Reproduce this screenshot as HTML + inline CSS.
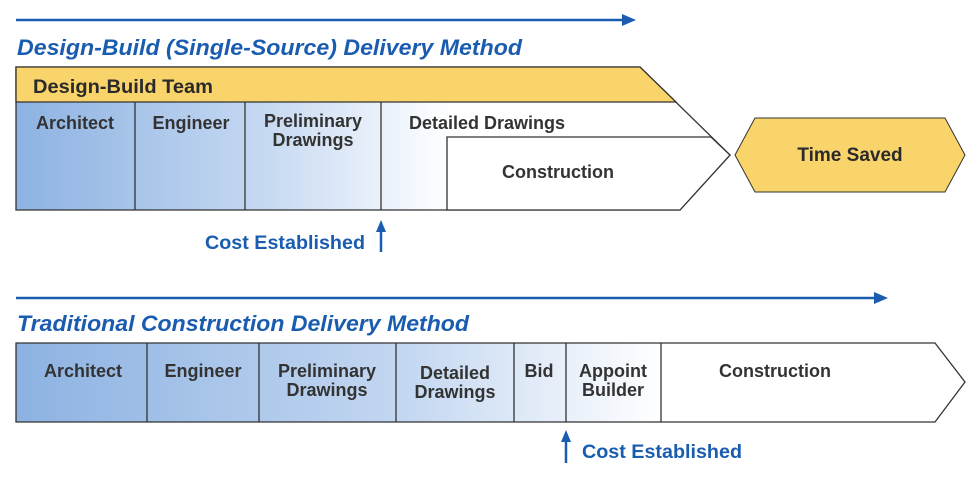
<!DOCTYPE html>
<html><head><style>
body{margin:0;background:#fff;}
svg text{font-family:"Liberation Sans",sans-serif;}
</style></head><body>
<svg width="980" height="478" viewBox="0 0 980 478" xmlns="http://www.w3.org/2000/svg">
<defs>
<linearGradient id="g1" x1="16" x2="450" y1="0" y2="0" gradientUnits="userSpaceOnUse">
<stop offset="0" stop-color="#8db2e2"/><stop offset="0.55" stop-color="#c3d7f1"/><stop offset="1" stop-color="#ffffff"/></linearGradient>
<linearGradient id="g2" x1="16" x2="720" y1="0" y2="0" gradientUnits="userSpaceOnUse">
<stop offset="0" stop-color="#8db2e2"/><stop offset="0.55" stop-color="#c3d7f1"/><stop offset="0.92" stop-color="#ffffff"/></linearGradient>
</defs>
<!-- top -->
<line x1="16" y1="20" x2="624" y2="20" stroke="#1a5cb0" stroke-width="2.5"/>
<polygon points="622,14 636,20 622,26" fill="#1a5cb0"/>
<text x="17" y="55" font-size="22" font-weight="bold" font-style="italic" fill="#1a5cb0" textLength="505" lengthAdjust="spacingAndGlyphs">Design-Build (Single-Source) Delivery Method</text>
<polygon points="16,67 640,67 730,155 680,210 16,210" fill="url(#g1)" stroke="#333" stroke-width="1.3"/>
<polygon points="16,67 640,67 676,102 16,102" fill="#f9d46a" stroke="#333" stroke-width="1.3"/>
<line x1="135" y1="102" x2="135" y2="210" stroke="#333" stroke-width="1.3"/>
<line x1="245" y1="102" x2="245" y2="210" stroke="#333" stroke-width="1.3"/>
<line x1="381" y1="102" x2="381" y2="210" stroke="#333" stroke-width="1.3"/>
<polygon points="447,137 711,137 730,155 680,210 447,210" fill="#fff" stroke="#333" stroke-width="1.3"/>
<text x="33" y="93" font-size="19" font-weight="bold" fill="#2a2a2a" textLength="180" lengthAdjust="spacingAndGlyphs">Design-Build Team</text>
<g font-size="18" font-weight="bold" fill="#333" text-anchor="middle">
<text x="75" y="129">Architect</text>
<text x="191" y="129">Engineer</text>
<text x="313" y="127">Preliminary</text>
<text x="313" y="146">Drawings</text>
<text x="487" y="129">Detailed Drawings</text>
<text x="558" y="178">Construction</text>
</g>
<polygon points="735,155 755,118 945,118 965,155 945,192 755,192" fill="#f9d46a" stroke="#333" stroke-width="1"/>
<text x="850" y="161" font-size="19" font-weight="bold" fill="#2a2a2a" text-anchor="middle">Time Saved</text>
<text x="205" y="249" font-size="19" font-weight="bold" fill="#1a5cb0" textLength="160" lengthAdjust="spacingAndGlyphs">Cost Established</text>
<line x1="381" y1="252" x2="381" y2="230" stroke="#1a5cb0" stroke-width="2.5"/>
<polygon points="376,232 381,220 386,232" fill="#1a5cb0"/>
<!-- bottom -->
<line x1="16" y1="298" x2="876" y2="298" stroke="#1a5cb0" stroke-width="2.5"/>
<polygon points="874,292 888,298 874,304" fill="#1a5cb0"/>
<text x="17" y="331" font-size="22" font-weight="bold" font-style="italic" fill="#1a5cb0" textLength="452" lengthAdjust="spacingAndGlyphs">Traditional Construction Delivery Method</text>
<polygon points="16,343 935,343 965,382 935,422 16,422" fill="url(#g2)" stroke="#333" stroke-width="1.3"/>
<g stroke="#333" stroke-width="1.3">
<line x1="147" y1="343" x2="147" y2="422"/><line x1="259" y1="343" x2="259" y2="422"/>
<line x1="396" y1="343" x2="396" y2="422"/><line x1="514" y1="343" x2="514" y2="422"/>
<line x1="566" y1="343" x2="566" y2="422"/><line x1="661" y1="343" x2="661" y2="422"/>
</g>
<g font-size="18" font-weight="bold" fill="#333" text-anchor="middle">
<text x="83" y="377">Architect</text>
<text x="203" y="377">Engineer</text>
<text x="327" y="377">Preliminary</text>
<text x="327" y="396">Drawings</text>
<text x="455" y="379">Detailed</text>
<text x="455" y="398">Drawings</text>
<text x="539" y="377">Bid</text>
<text x="613" y="377">Appoint</text>
<text x="613" y="396">Builder</text>
<text x="775" y="377">Construction</text>
</g>
<line x1="566" y1="463" x2="566" y2="440" stroke="#1a5cb0" stroke-width="2.5"/>
<polygon points="561,442 566,430 571,442" fill="#1a5cb0"/>
<text x="582" y="458" font-size="19" font-weight="bold" fill="#1a5cb0" textLength="160" lengthAdjust="spacingAndGlyphs">Cost Established</text>
</svg>
</body></html>
